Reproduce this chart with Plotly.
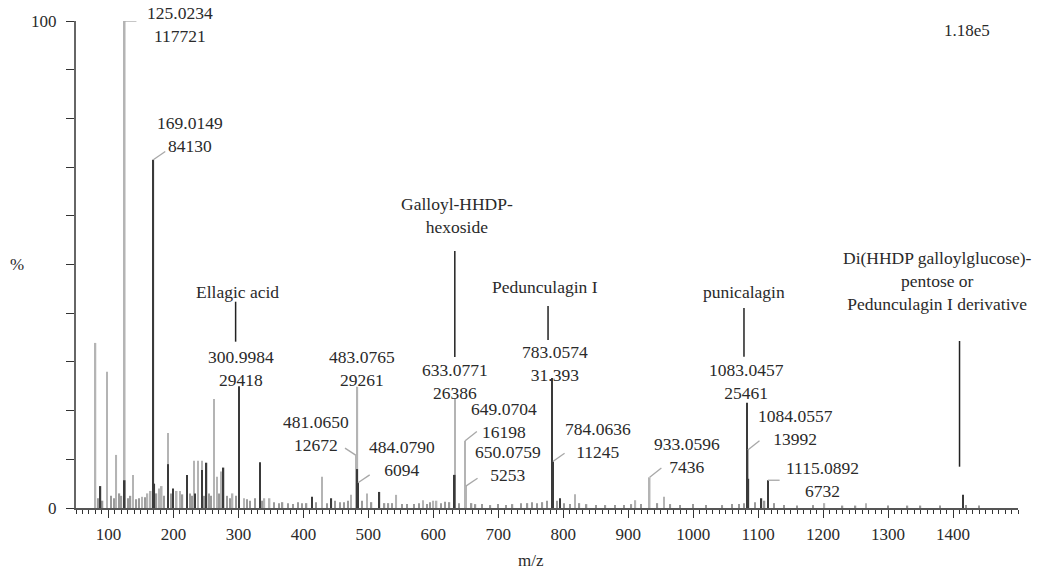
import plotly.graph_objects as go

# ---------------- data (m/z, relative intensity %) ----------------
light_mz = [80, 98, 112, 125.0234, 138, 152, 160, 165, 178, 182, 192, 205, 210, 221,
            232, 238, 244, 262.6, 266.7, 273, 291, 309, 340, 348, 429, 473.6,
            481.0650, 483.0765, 498, 543, 584, 600, 605, 633.0771, 649.0704, 650.0759,
            818, 911, 933.0596, 955, 1084.0557, 1202, 1266]
light_pct = [33.9, 28.0, 10.9, 100.0, 6.8, 2.3, 3.0, 3.5, 4.0, 4.5, 15.4, 3.5, 3.5, 5.0,
             9.7, 9.7, 9.7, 22.4, 6.4, 7.5, 3.0, 2.0, 2.0, 2.0, 6.4, 2.7,
             10.8, 24.9, 3.0, 2.7, 1.6, 1.5, 1.5, 22.4, 13.8, 4.5,
             2.8, 1.6, 6.3, 2.3, 11.9, 1.0, 1.0]

dark_mz = [87.6, 125, 169.0149, 170.5, 192, 199, 221, 233, 244, 250.8, 277, 300.9984,
           333, 413, 443, 483, 484.0790, 517, 633, 783.0574, 784.0636, 795,
           1083.0457, 1085, 1105, 1115.0892, 1415]
dark_pct = [4.5, 5.7, 71.5, 5.0, 9.0, 4.0, 6.8, 3.0, 7.8, 9.3, 8.3, 25.0,
            9.4, 2.3, 2.0, 8.0, 5.2, 3.3, 6.8, 26.7, 9.55, 2.0,
            21.6, 6.0, 2.0, 5.7, 2.7]

grass_mz = [84, 91, 104, 108, 117, 120, 130, 134, 143, 147, 156, 174, 186, 196, 214,
            226, 229, 248, 255, 258, 270, 283, 287, 296, 313, 318, 325, 337, 355, 362,
            368, 376, 384, 392, 398, 405, 419, 436, 449, 456, 463, 469, 490, 505, 525,
            531, 537, 552, 560, 570, 578, 590, 595, 612, 618, 625, 640, 659, 665, 675,
            688, 700, 712, 722, 735, 745, 752, 760, 768, 775, 790, 801, 810, 825, 836,
            850, 865, 880, 893, 905, 920, 945, 965, 980, 1000, 1020, 1045, 1060, 1070,
            1078, 1095, 1110, 1125, 1140, 1160, 1185, 1230, 1250, 1300, 1330, 1350,
            1380, 1420, 1440]
grass_pct = [2.0, 1.5, 2.5, 2.0, 3.0, 2.5, 2.0, 2.5, 1.8, 2.0, 2.2, 3.0, 2.5, 3.0, 2.8,
             3.0, 2.5, 2.5, 3.0, 2.5, 3.0, 2.5, 2.0, 2.5, 1.8, 1.5, 2.0, 1.5, 1.2, 1.0,
             1.2, 1.0, 0.8, 1.2, 1.0, 1.0, 1.2, 1.0, 1.5, 1.2, 1.2, 1.5, 1.5, 1.2, 1.0,
             1.0, 1.0, 0.8, 0.8, 0.8, 1.0, 0.8, 1.2, 1.0, 1.3, 1.2, 1.0, 1.0, 0.8, 0.8,
             0.6, 0.8, 0.6, 0.8, 1.0, 1.0, 1.2, 1.0, 1.2, 1.5, 1.5, 1.0, 0.8, 1.0, 0.8,
             0.6, 0.6, 0.6, 0.6, 0.8, 0.8, 1.0, 0.8, 0.6, 0.8, 0.6, 0.6, 0.8, 0.8,
             1.0, 1.2, 1.5, 1.0, 0.6, 0.5, 0.6, 0.5, 0.5, 0.5, 0.5, 0.5,
             0.5, 0.6, 0.5]

# labelled peaks: m/z, %, text label, text position (m/z, %), leader offset (d m/z, d %)
lab_mz = [125.0234, 169.0149, 300.9984, 483.0765, 481.0650, 484.0790, 633.0771,
          649.0704, 650.0759, 783.0574, 784.0636, 933.0596, 1083.0457, 1084.0557, 1115.0892]
lab_pct = [100.0, 71.5, 25.0, 24.9, 10.8, 5.2, 22.4, 13.8, 4.5, 26.7, 9.55, 6.3, 21.6, 11.9, 5.7]
lab_text = ["125.0234<br>117721", "169.0149<br>84130", "300.9984<br>29418",
            "483.0765<br>29261", "481.0650<br>12672", "484.0790<br>6094",
            "633.0771<br>26386", "649.0704<br>16198", "650.0759<br>5253",
            "783.0574<br>31.393", "784.0636<br>11245", "933.0596<br>7436",
            "1083.0457<br>25461", "1084.0557<br>13992", "1115.0892<br>6732"]
lab_pos = [(210.0, 99.2), (225.4, 76.65), (303.8, 28.64), (489.5, 28.64), (419.2, 15.2),
           (551.5, 10.16), (633.8, 26.0), (708.5, 17.97), (714.6, 9.24), (786.9, 29.57),
           (853.1, 13.96), (990.0, 10.88), (1082.3, 25.98), (1157.7, 16.63), (1199.2, 5.85)]
leader = [(18, 0), (18.4, 1.7), None, None, (-17, 1.5), (18, 1.6), None,
          (18, 1.9), (18, 1.6), None, (18, 1.7), (18, 1.9), None, (18, 1.9), (18, 0)]

comp_text = ["Ellagic acid", "Galloyl-HHDP-<br>hexoside", "Pedunculagin I", "punicalagin",
             "Di(HHDP galloylglucose)-<br>pentose or<br>Pedunculagin I derivative"]
comp_pos = [(299.2, 44.4), (636.2, 60.16), (772.6, 45.4), (1077.7, 44.35), (1376, 46.6)]
comp_line_mz = [295.7, 633.1, 776.6, 1078.2, 1410]
comp_line_pct = [(34.15, 42.36), (31.0, 52.77), (34.5, 41.48), (31.07, 41.07), (8.48, 34.29)]

x_ticks = list(range(100, 1401, 100))
y_ticks = list(range(0, 101, 10))
y_ticktext = ["0"] + [""] * 9 + ["100"]

FONT = "Liberation Serif"
TXT = "#2a2a2a"

fig = go.Figure()
fig.add_trace(go.Bar(x=light_mz, y=light_pct, width=2.4, marker=dict(color="#b4b4b4", line_width=0)))
fig.add_trace(go.Bar(x=grass_mz, y=grass_pct, width=2.0, marker=dict(color="#9a9a9a", line_width=0)))
fig.add_trace(go.Bar(x=dark_mz, y=dark_pct, width=2.4, marker=dict(color="#3a3a3a", line_width=0)))

shapes = []
annotations = []
for m, p, t, pos, ld in zip(lab_mz, lab_pct, lab_text, lab_pos, leader):
    annotations.append(dict(x=pos[0], y=pos[1], xref="x", yref="y", text=t, showarrow=False,
                            xanchor="center", yanchor="middle", align="center",
                            font=dict(family=FONT, size=17.5, color=TXT)))
    if ld is not None:
        shapes.append(dict(type="line", xref="x", yref="y", x0=m, y0=p, x1=m + ld[0], y1=p + ld[1],
                           line=dict(color="#a8a8a8", width=1.3)))

for t, pos, lm, lp in zip(comp_text, comp_pos, comp_line_mz, comp_line_pct):
    annotations.append(dict(x=pos[0], y=pos[1], xref="x", yref="y", text=t, showarrow=False,
                            xanchor="center", yanchor="middle", align="center",
                            font=dict(family=FONT, size=17.5, color=TXT)))
    shapes.append(dict(type="line", xref="x", yref="y", x0=lm, x1=lm, y0=lp[0], y1=lp[1],
                       line=dict(color="#222222", width=1.5)))

annotations.append(dict(x=-0.063, y=0.50, xref="paper", yref="paper", text="%", showarrow=False,
                        xanchor="center", yanchor="middle", font=dict(family=FONT, size=17, color=TXT)))
annotations.append(dict(x=0.946, y=0.981, xref="paper", yref="paper", text="1.18e5", showarrow=False,
                        xanchor="center", yanchor="middle", font=dict(family=FONT, size=17, color=TXT)))
annotations.append(dict(x=0.483, y=-0.107, xref="paper", yref="paper", text="m/z", showarrow=False,
                        xanchor="center", yanchor="middle", font=dict(family=FONT, size=17, color=TXT)))

fig.update_layout(
    width=1046, height=571,
    margin=dict(l=76, r=28, t=21, b=63),
    paper_bgcolor="white", plot_bgcolor="white",
    barmode="overlay", showlegend=False,
    shapes=shapes, annotations=annotations,
    font=dict(family=FONT, size=17, color=TXT),
)
fig.update_xaxes(range=[50, 1500], tickmode="array", tickvals=x_ticks,
                 ticks="outside", ticklen=8, tickwidth=1.3, tickcolor="#333",
                 showline=True, linecolor="#555", linewidth=2, showgrid=False, zeroline=False,
                 ticklabelstandoff=2,
                 minor=dict(tickmode="linear", tick0=0, dtick=10, ticks="outside", ticklen=4,
                            tickwidth=1, tickcolor="#333"))
fig.update_yaxes(range=[0, 100], tickmode="array", tickvals=y_ticks, ticktext=y_ticktext,
                 ticks="outside", ticklen=8, tickwidth=1.3, tickcolor="#333",
                 showline=True, linecolor="#666", linewidth=2.2, showgrid=False, zeroline=False,
                 ticklabelstandoff=6)

fig.write_html("out.html")
